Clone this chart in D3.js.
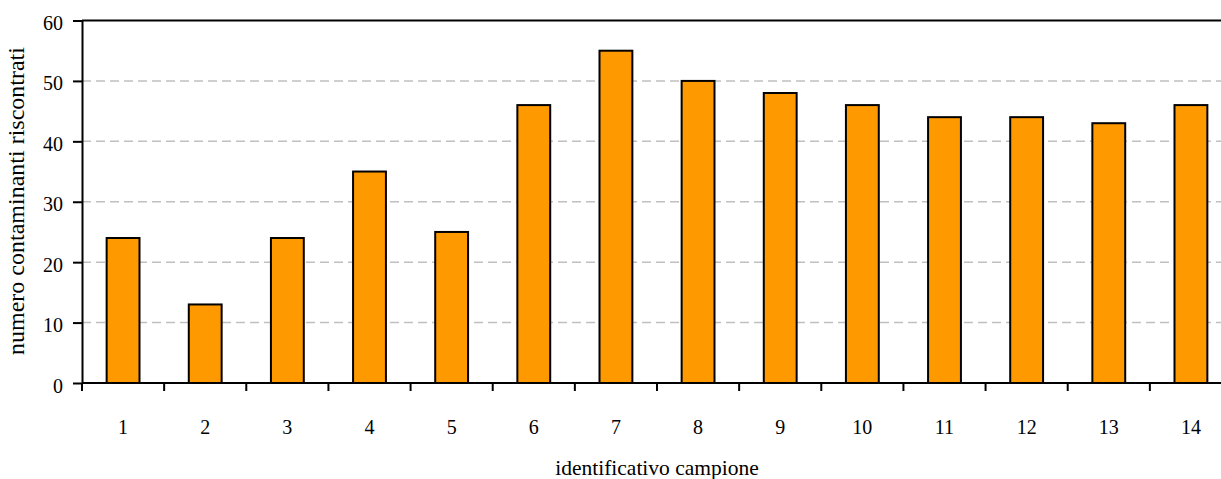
<!DOCTYPE html>
<html>
<head>
<meta charset="utf-8">
<script src="https://cdn.jsdelivr.net/npm/d3@7"></script>
<style>
  html, body { margin: 0; padding: 0; background: #fff; overflow: hidden; }
  svg { display: block; }
  text { font-family: "Liberation Serif", "Times New Roman", serif; fill: #000; }
</style>
</head>
<body>
<script>
var campioni = ["1", "2", "3", "4", "5", "6", "7", "8", "9", "10", "11", "12", "13", "14"];
var contaminanti = [24, 13, 24, 35, 25, 46, 55, 50, 48, 46, 44, 44, 43, 46];
var yTicks = [0, 10, 20, 30, 40, 50, 60];

var W = 1221, H = 479;
// plot area runs a bit past the right edge, as in the picture
var mLeft = 82, mTop = 20.5, mRight = 1232, mBottom = 383;

var svg = d3.select("body").append("svg")
    .attr("width", W)
    .attr("height", H);

var x = d3.scaleBand()
    .domain(campioni)
    .range([mLeft, mRight])
    .paddingInner(0.6)
    .paddingOuter(0.3);

var y = d3.scaleLinear()
    .domain([0, 60])
    .range([mBottom, mTop]);

// dashed gridlines
svg.append("g")
    .selectAll("line")
    .data(yTicks.filter(function (d) { return d > 0 && d < 60; }))
    .enter().append("line")
    .attr("x1", mLeft)
    .attr("x2", mRight)
    .attr("y1", function (d) { return y(d); })
    .attr("y2", function (d) { return y(d); })
    .attr("stroke", "#c0c0c0")
    .attr("stroke-width", 1.5)
    .attr("stroke-dasharray", "9,5");

// top border
svg.append("line")
    .attr("x1", mLeft).attr("x2", mRight)
    .attr("y1", y(60)).attr("y2", y(60))
    .attr("stroke", "#000")
    .attr("stroke-width", 2);

// bars
svg.append("g")
    .selectAll("rect")
    .data(contaminanti)
    .enter().append("rect")
    .attr("x", function (d, i) { return x(campioni[i]); })
    .attr("y", function (d) { return y(d); })
    .attr("width", x.bandwidth())
    .attr("height", function (d) { return y(0) - y(d); })
    .attr("fill", "#ff9900")
    .attr("stroke", "#000")
    .attr("stroke-width", 2);

// y axis
var yAxis = svg.append("g")
    .attr("transform", "translate(" + mLeft + ",0)")
    .call(d3.axisLeft(y).tickValues(yTicks).tickSize(9).tickPadding(10).tickSizeOuter(0));
yAxis.select(".domain").attr("stroke-width", 2);
yAxis.selectAll(".tick line").attr("stroke-width", 2);
yAxis.selectAll("text")
    .style("font-size", "20px")
    .style("font-family", "'Liberation Serif', serif")
    .attr("dy", "0.45em");

// x axis, ticks sit between the categories
var xAxis = svg.append("g")
    .attr("transform", "translate(0," + mBottom + ")");
xAxis.append("line")
    .attr("x1", mLeft).attr("x2", mRight)
    .attr("stroke", "#000")
    .attr("stroke-width", 2);
xAxis.selectAll("line.tk")
    .data(d3.range(campioni.length + 1))
    .enter().append("line")
    .attr("class", "tk")
    .attr("x1", function (i) { return mLeft + i * (mRight - mLeft) / campioni.length; })
    .attr("x2", function (i) { return mLeft + i * (mRight - mLeft) / campioni.length; })
    .attr("y1", 0)
    .attr("y2", 8)
    .attr("stroke", "#000")
    .attr("stroke-width", 2);
xAxis.selectAll("text")
    .data(campioni)
    .enter().append("text")
    .attr("x", function (d) { return x(d) + x.bandwidth() / 2; })
    .attr("y", 51)
    .attr("text-anchor", "middle")
    .style("font-size", "20px")
    .text(function (d) { return d; });

// axis titles
svg.append("text")
    .attr("x", (mLeft + mRight) / 2)
    .attr("y", 475)
    .attr("text-anchor", "middle")
    .style("font-size", "21.5px")
    .text("identificativo campione");

svg.append("text")
    .attr("transform", "translate(24,201) rotate(-90)")
    .attr("text-anchor", "middle")
    .style("font-size", "24px")
    .text("numero contaminanti riscontrati");
</script>
</body>
</html>
